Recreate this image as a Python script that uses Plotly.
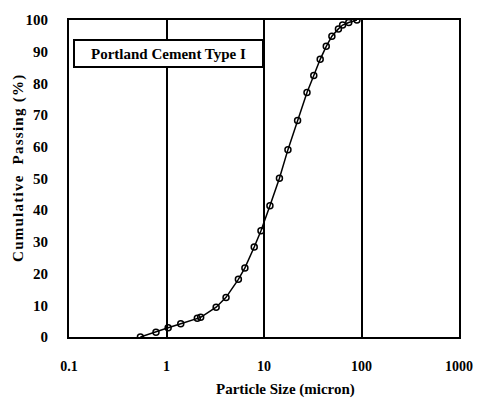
import plotly.graph_objects as go

# Particle size distribution of Portland cement (laser diffraction)
particle_size_um = [0.54, 0.78, 1.04, 1.40, 2.07, 2.24, 3.23, 4.08, 5.46, 6.37,
                    7.94, 9.31, 11.5, 14.4, 17.6, 22.1, 27.6, 32.4, 37.7, 43.5,
                    49.7, 58.0, 64.0, 74.0, 89.8]
cumulative_passing = [0.0, 1.5, 2.9, 4.2, 5.9, 6.2, 9.4, 12.5, 18.2, 21.8,
                      28.4, 33.5, 41.4, 50.1, 59.1, 68.3, 77.1, 82.5, 87.6, 91.7,
                      94.9, 97.2, 98.4, 99.2, 100.0]

x_tick_vals = [0.1, 1, 10, 100, 1000]
x_tick_text = ["0.1", "1", "10", "100", "1000"]
y_tick_vals = [0, 10, 20, 30, 40, 50, 60, 70, 80, 90, 100]

x_title = "Particle Size (micron)"
y_title = "Cumulative  Passing (%)"
legend_label = "Portland Cement Type I"

serif = "Liberation Serif, Times New Roman, serif"


def spaced(text, gap="\u200a"):
    """Open up the letter spacing with hair spaces."""
    return gap.join(text)


fig = go.Figure()
fig.add_trace(go.Scatter(
    x=particle_size_um,
    y=cumulative_passing,
    mode="lines+markers",
    line=dict(color="black", width=1.5),
    marker=dict(symbol="circle-open", size=6, color="black",
                line=dict(color="black", width=1.5)),
    showlegend=False,
))

fig.update_layout(
    width=485,
    height=405,
    margin=dict(l=69, r=18, t=16, b=68),
    paper_bgcolor="white",
    plot_bgcolor="white",
    font=dict(family=serif, size=14, color="black"),
    xaxis=dict(
        type="log",
        range=[-1, 3],
        tickvals=x_tick_vals,
        ticktext=x_tick_text,
        tickfont=dict(family=serif, size=14, color="black", weight="bold"),
        ticks="",
        ticklabelstandoff=15,
        showgrid=True,
        gridcolor="black",
        gridwidth=1.5,
        showline=True,
        linecolor="black",
        linewidth=2,
        mirror=True,
        zeroline=False,
    ),
    yaxis=dict(
        range=[0, 100],
        tickvals=y_tick_vals,
        tickfont=dict(family=serif, size=15, color="black", weight="bold"),
        ticks="",
        ticklabelstandoff=16,
        showgrid=False,
        showline=True,
        linecolor="black",
        linewidth=2,
        mirror=True,
        zeroline=False,
    ),
    annotations=[
        dict(
            text="<b>" + legend_label + "</b>",
            xref="paper", yref="paper",
            x=0.01, y=0.941,
            xanchor="left", yanchor="top",
            showarrow=False,
            font=dict(family=serif, size=15, color="black"),
            bgcolor="white",
            bordercolor="black",
            borderwidth=2,
            width=185,
            height=23,
            align="center",
        ),
        dict(
            text="<b>" + x_title + "</b>",
            xref="paper", yref="paper",
            x=0.555, y=-0.165,
            xanchor="center", yanchor="middle",
            showarrow=False,
            font=dict(family=serif, size=15, color="black"),
        ),
        dict(
            text="<b>" + spaced(y_title) + "</b>",
            xref="paper", yref="paper",
            x=-0.131, y=0.533,
            xanchor="center", yanchor="middle",
            textangle=-90,
            showarrow=False,
            font=dict(family=serif, size=15, color="black"),
        ),
    ],
)

fig.write_html("out.html")
